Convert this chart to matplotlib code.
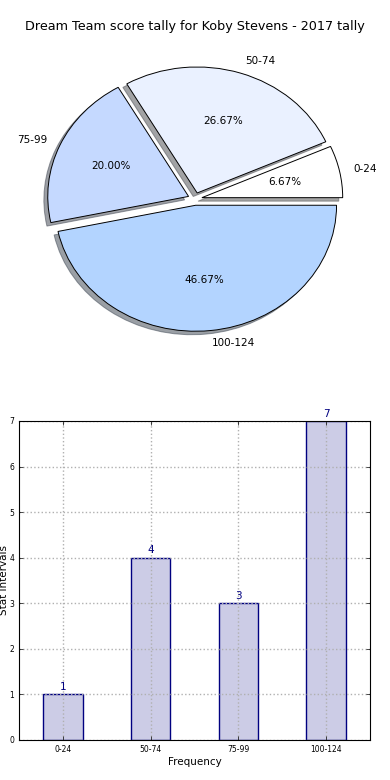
import matplotlib
matplotlib.use('Agg')
import matplotlib.pyplot as plt

# data
intervals = ['0-24', '50-74', '75-99', '100-124']
counts = [1, 4, 3, 7]
pie_colors = ['#FFFFFF', '#EAF1FF', '#C5D9FF', '#B3D4FF']
explode = [0.05, 0.05, 0.05, 0.05]

fig = plt.figure(figsize=(3.9, 7.8), dpi=100)

# pie chart
ax1 = fig.add_axes([0.0487, 0.543, 0.9026, 0.4038])
ax1.pie(counts, labels=intervals, colors=pie_colors, explode=explode,
        autopct='%.2f%%', shadow=True, startangle=0,
        wedgeprops={'edgecolor': 'black', 'linewidth': 0.7},
        textprops={'fontsize': 7.5})
ax1.set_aspect('auto')
ax1.set_xlim(-1.25, 1.25)
ax1.set_ylim(-1.25, 1.25)
ax1.set_title('Dream Team score tally for Koby Stevens - 2017 tally',
              fontsize=9.2, pad=8)

# bar chart
ax2 = fig.add_axes([0.0487, 0.0513, 0.9, 0.409])
x = range(len(intervals))
bars = ax2.bar(x, counts, width=0.45, color=(0.8, 0.8, 0.9),
               edgecolor='navy', linewidth=1)
for rect, c in zip(bars, counts):
    ax2.text(rect.get_x() + rect.get_width() / 2, c + 0.05, str(c),
             ha='center', va='bottom', color='navy', fontsize=7.5)
ax2.set_xlim(-0.5, 3.5)
ax2.set_ylim(0, 7)
ax2.set_xticks(list(x))
ax2.set_xticklabels(intervals)
ax2.set_yticks(range(8))
ax2.tick_params(direction='in', labelsize=5.5, top=True, right=True,
                length=3, width=0.5)
ax2.set_axisbelow(False)
ax2.grid(True, linestyle=':', color='#b0b0b0', linewidth=1)
for sp in ax2.spines.values():
    sp.set_zorder(3)
ax2.set_xlabel('Frequency', fontsize=7.5, labelpad=2)
ax2.set_ylabel('Stat Intervals', fontsize=7.5)
ax2.yaxis.set_label_coords(-0.028, 0.5)

plt.savefig('out.png', dpi=100)
